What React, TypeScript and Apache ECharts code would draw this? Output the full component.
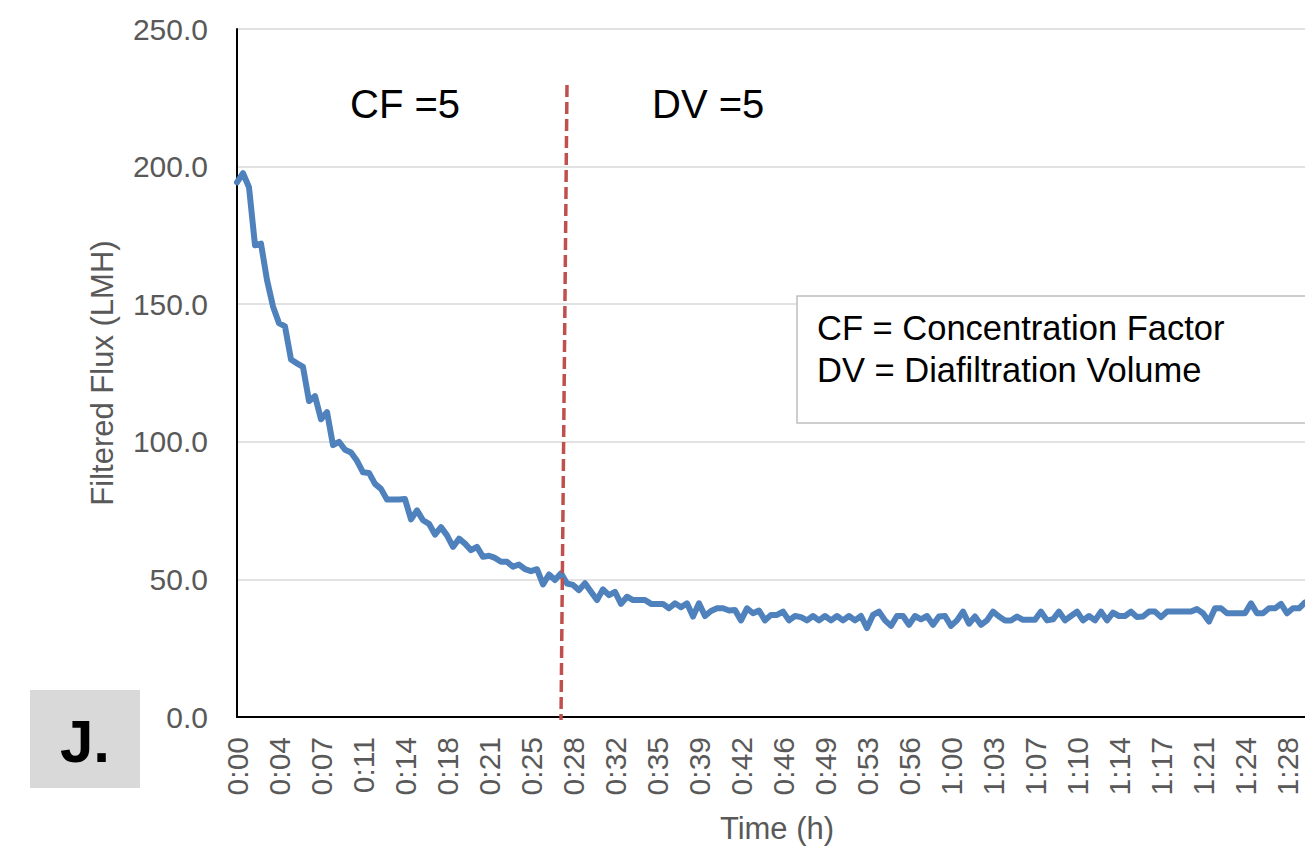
import React, { useEffect, useRef } from "react";
import * as echarts from "echarts";

// Sampling step of the time axis (seconds between readings)
const STEP_SECONDS = 30;

// Filtered flux (LMH), one reading every 30 s
const FLUX: number[] = [
  194.3, 197.6, 192.5, 171.4, 172.0, 158.8, 149.2, 143.1, 141.9, 129.9,
  128.5, 127.2, 114.8, 116.6, 108.2, 110.8, 98.8, 100.0, 97.1, 96.1,
  93.1, 88.9, 88.7, 84.7, 82.9, 79.0, 79.0, 79.0, 79.2, 71.8,
  75.1, 71.5, 70.2, 66.3, 69.0, 66.0, 61.8, 64.8, 63.0, 60.6,
  61.8, 58.2, 58.6, 57.8, 56.4, 56.4, 54.6, 55.4, 53.7, 53.0,
  53.7, 48.2, 51.8, 49.8, 52.2, 48.5, 48.0, 46.1, 48.6, 45.5,
  42.5, 46.4, 44.3, 45.5, 41.1, 43.7, 42.5, 42.5, 42.5, 41.1,
  41.1, 41.1, 39.5, 41.3, 39.9, 41.3, 36.5, 41.3, 36.7, 38.5,
  39.5, 39.5, 38.7, 38.9, 35.1, 39.5, 37.7, 38.7, 35.1, 37.1,
  37.1, 38.3, 35.1, 36.7, 36.3, 35.1, 36.7, 35.1, 36.7, 35.1,
  36.7, 35.1, 36.7, 35.1, 36.7, 32.3, 37.1, 38.3, 35.1, 33.1,
  36.7, 36.7, 33.5, 36.7, 35.5, 36.7, 33.5, 36.5, 36.7, 33.1,
  35.1, 38.3, 33.9, 36.5, 33.5, 35.1, 38.3, 36.5, 35.1, 35.1,
  36.5, 35.3, 35.3, 35.3, 38.3, 35.1, 35.5, 38.3, 35.1, 36.7,
  38.3, 35.1, 36.7, 35.1, 38.3, 35.1, 37.9, 36.7, 36.7, 38.3,
  36.3, 36.5, 38.3, 38.3, 36.3, 38.3, 38.3, 38.3, 38.3, 38.3,
  39.2, 37.7, 34.7, 39.5, 39.5, 37.7, 37.7, 37.7, 37.7, 41.3,
  37.7, 37.7, 39.5, 39.5, 41.1, 37.7, 39.5, 39.5, 41.6, 42.5,
  41.5,
];

const pad2 = (n: number) => (n < 10 ? "0" + n : String(n));

// Category labels h:mm:ss for each reading
const TIME_CATEGORIES: string[] = FLUX.map((_, i) => {
  const s = i * STEP_SECONDS;
  const h = Math.floor(s / 3600);
  const m = Math.floor((s % 3600) / 60);
  const sec = s % 60;
  return `${h}:${pad2(m)}:${pad2(sec)}`;
});

const Y_TICKS = [0, 50, 100, 150, 200, 250];

const Y_TITLE = "Filtered Flux (LMH)";
const X_TITLE = "Time (h)";
const PHASE_LABELS = ["CF =5", "DV =5"];
const NOTE_LINES = ["CF = Concentration Factor", "DV = Diafiltration Volume"];
const PANEL_LABEL = "J.";

const FONT = "'Liberation Sans', Arial, Helvetica, sans-serif";

function toHMM(v: string): string {
  const [h, m, s] = v.split(":").map(Number);
  const total = Math.round(h * 60 + m + s / 60);
  return `${Math.floor(total / 60)}:${pad2(total % 60)}`;
}

export default function App() {
  const ref = useRef<HTMLDivElement>(null);

  useEffect(() => {
    if (!ref.current) return;
    const chart = echarts.init(ref.current, undefined, { renderer: "svg" });
    chart.setOption({
      animation: false,
      backgroundColor: "#ffffff",
      grid: { left: 237, top: 29, bottom: 129, right: 83, containLabel: false },
      xAxis: {
        type: "category",
        data: TIME_CATEGORIES,
        boundaryGap: false,
        name: X_TITLE,
        nameLocation: "middle",
        nameGap: 96,
        nameTextStyle: { color: "#595959", fontSize: 31, fontFamily: FONT },
        axisLine: { show: true, lineStyle: { color: "#000000", width: 2 } },
        axisTick: { show: false },
        splitLine: { show: false },
        axisLabel: {
          interval: 6,
          rotate: 90,
          margin: 20,
          color: "#595959",
          fontSize: 30,
          fontFamily: FONT,
          formatter: (v: string) => toHMM(v),
        },
      },
      yAxis: {
        type: "value",
        min: Y_TICKS[0],
        max: Y_TICKS[Y_TICKS.length - 1],
        interval: 50,
        name: Y_TITLE,
        nameLocation: "middle",
        nameGap: 119,
        nameTextStyle: { color: "#595959", fontSize: 31, fontFamily: FONT },
        axisLine: { show: true, lineStyle: { color: "#000000", width: 2 } },
        axisTick: { show: false },
        splitLine: { show: true, lineStyle: { color: "#d9d9d9", width: 1.5 } },
        axisLabel: {
          margin: 29,
          color: "#595959",
          fontSize: 30,
          fontFamily: FONT,
          formatter: (v: number) => v.toFixed(1),
        },
      },
      series: [
        {
          type: "line",
          data: FLUX,
          showSymbol: false,
          symbol: "none",
          lineStyle: { color: "#4f81bd", width: 6, join: "round", cap: "round" },
          z: 2,
        },
      ],
      graphic: [
        {
          type: "rect",
          left: 30,
          top: 690,
          shape: { width: 110, height: 98 },
          style: { fill: "#d9d9d9" },
        },
        {
          type: "text",
          x: 85,
          y: 741,
          style: {
            text: PANEL_LABEL,
            fill: "#000000",
            font: `bold 60px ${FONT}`,
            textAlign: "center",
            textVerticalAlign: "middle",
          },
        },
        {
          type: "text",
          x: 350,
          y: 104,
          style: {
            text: PHASE_LABELS[0],
            fill: "#000000",
            font: `40px ${FONT}`,
            textAlign: "left",
            textVerticalAlign: "middle",
          },
        },
        {
          type: "text",
          x: 652,
          y: 104,
          style: {
            text: PHASE_LABELS[1],
            fill: "#000000",
            font: `40px ${FONT}`,
            textAlign: "left",
            textVerticalAlign: "middle",
          },
        },
        {
          type: "rect",
          shape: { x: 797, y: 296, width: 560, height: 127 },
          style: { fill: "#ffffff", stroke: "#bfbfbf", lineWidth: 1.5 },
          z: 10,
        },
        {
          type: "text",
          x: 817,
          y: 328,
          z: 11,
          style: {
            text: NOTE_LINES[0],
            fill: "#000000",
            font: `34.5px ${FONT}`,
            textAlign: "left",
            textVerticalAlign: "middle",
          },
        },
        {
          type: "text",
          x: 817,
          y: 370,
          z: 11,
          style: {
            text: NOTE_LINES[1],
            fill: "#000000",
            font: `34.5px ${FONT}`,
            textAlign: "left",
            textVerticalAlign: "middle",
          },
        },
        {
          type: "line",
          shape: { x1: 567, y1: 85, x2: 561, y2: 720 },
          style: { stroke: "#c0504d", lineWidth: 3.5, lineDash: [12, 5] },
          z: 12,
        },
      ],
    });
    return () => chart.dispose();
  }, []);

  return (
    <div
      ref={ref}
      style={{ position: "fixed", left: 0, top: 0, width: 1400, height: 849, background: "#fff" }}
    />
  );
}
